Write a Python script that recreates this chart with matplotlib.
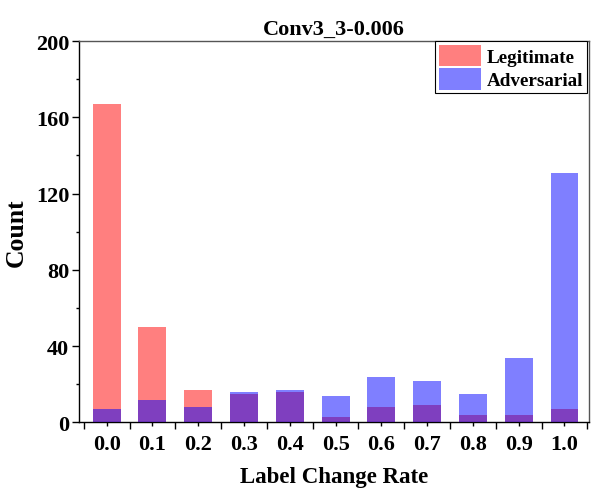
import matplotlib
matplotlib.use("Agg")
import matplotlib.pyplot as plt
import numpy as np
from matplotlib.ticker import MultipleLocator, FixedLocator

rates = [0.0, 0.1, 0.2, 0.3, 0.4, 0.5, 0.6, 0.7, 0.8, 0.9, 1.0]
tick_labels = ["0.0", "0.1", "0.2", "0.3", "0.4", "0.5", "0.6", "0.7", "0.8", "0.9", "1.0"]
legitimate = [167, 50, 17, 15, 16, 3, 8, 9, 4, 4, 7]
adversarial = [7, 12, 8, 16, 17, 14, 24, 22, 15, 34, 131]

plt.rcParams["font.family"] = ["Liberation Serif", "DejaVu Serif"]
plt.rcParams["font.weight"] = "bold"

fig = plt.figure(figsize=(5.92, 4.89), dpi=100)
ax = fig.add_axes([0.1334, 0.134, 0.8615, 0.780])

ax.bar(rates, legitimate, width=0.061, color="red", alpha=0.5, label="Legitimate", zorder=2)
ax.bar(rates, adversarial, width=0.061, color="blue", alpha=0.5, label="Adversarial", zorder=3)

ax.set_xlim(-0.0605, 1.0535)
ax.set_ylim(0, 200)
ax.set_xticks(rates)
ax.set_xticklabels(tick_labels)
ax.xaxis.set_minor_locator(FixedLocator(np.arange(-0.05, 1.1, 0.1)))
ax.yaxis.set_major_locator(MultipleLocator(40))
ax.yaxis.set_minor_locator(MultipleLocator(20))

ax.tick_params(axis="both", which="major", direction="out", width=1, labelsize=16, colors="black")
ax.tick_params(axis="x", which="major", length=3, pad=5)
ax.tick_params(axis="x", which="minor", direction="out", length=5, width=1)
ax.tick_params(axis="y", which="major", length=5, pad=2)
ax.tick_params(axis="y", which="minor", direction="out", length=2.5, width=1)
for lbl in ax.get_xticklabels() + ax.get_yticklabels():
    lbl.set_fontweight("bold")

for side in ["left", "bottom"]:
    ax.spines[side].set_color("black")
    ax.spines[side].set_linewidth(1.0)
for side in ["top", "right"]:
    ax.spines[side].set_color("#555555")
    ax.spines[side].set_linewidth(1.0)

ax.set_xlabel("Label Change Rate", fontsize=16.5, fontweight="bold", labelpad=9)
ax.set_ylabel("Count", fontsize=18.5, fontweight="bold", labelpad=6)
ax.set_title("Conv3_3-0.006", fontsize=16, fontweight="bold", pad=5)

leg = ax.legend(loc="upper right", bbox_to_anchor=(0.9955, 1.0), borderaxespad=0.0,
                fancybox=False, framealpha=1, edgecolor="black",
                prop={"weight": "bold", "size": 13.8},
                handlelength=2.2, handleheight=1.35, handletextpad=0.3,
                labelspacing=0.12, borderpad=0.18)
leg.get_frame().set_linewidth(0.8)

fig.savefig("out.png", dpi=100)
